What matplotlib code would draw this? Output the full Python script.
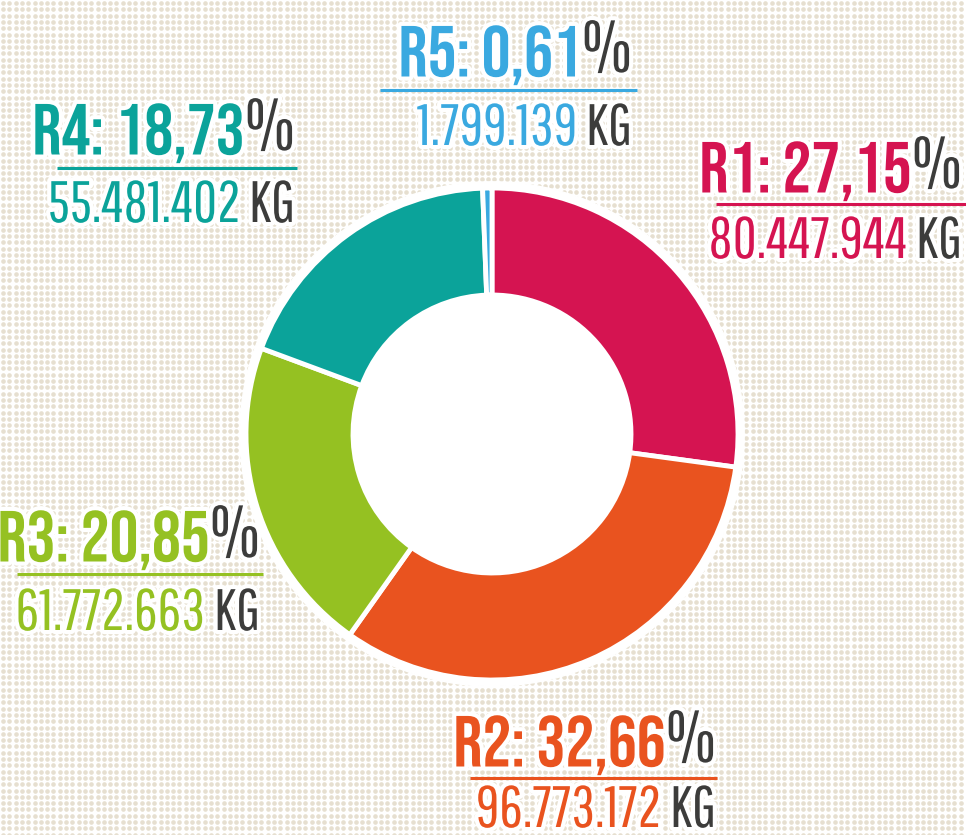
import numpy as np
import matplotlib
matplotlib.use("Agg")
import matplotlib.pyplot as plt
import matplotlib.patheffects as pe

# data
regions = ["R1", "R2", "R3", "R4", "R5"]
shares = [27.15, 32.66, 20.85, 18.73, 0.61]
share_labels = ["27,15", "32,66", "20,85", "18,73", "0,61"]
kg_labels = ["80.447.944", "96.773.172", "61.772.663", "55.481.402", "1.799.139"]
colors = ["#d51451", "#e9531f", "#95c122", "#0ba39a", "#3aa9e0"]
gray = "#3c3c3b"

# label layout in pixels: right edge, title baseline, rule y, rule x0, rule x1, kg baseline
label_pos = {
    "R1": (962, 188, 204, 716, 966, 258),
    "R2": (716, 762, 778, 470, 717, 827),
    "R3": (260, 557, 574, 17, 263, 630),
    "R4": (295, 150, 168, 57, 297, 222),
    "R5": (632, 72, 90, 380, 637, 145),
}

W, H = 966, 835
fig = plt.figure(figsize=(W / 100, H / 100), dpi=100)
bg = fig.add_axes([0, 0, 1, 1])
bg.set_xlim(0, W)
bg.set_ylim(H, 0)
bg.axis("off")

# dotted paper background
gx, gy = np.meshgrid(np.arange(3, W, 6.3), np.arange(3, H, 6.3))
bg.scatter(gx.ravel(), gy.ravel(), s=11, color="#e6dfd0", linewidths=0, zorder=0)

# donut
cx, cy, r = 492, 434, 246
ax = fig.add_axes([(cx - r - 8) / W, (H - cy - r - 8) / H, (2 * r + 16) / W, (2 * r + 16) / H])
ax.add_patch(plt.Circle((0, 0), 1.025, color="white", zorder=0))
ax.pie(shares, colors=colors, startangle=90, counterclock=False, radius=1,
       wedgeprops=dict(width=0.435, edgecolor="white", linewidth=3.5))
lim = 1 + 8 / r
ax.set_xlim(-lim, lim)
ax.set_ylim(-lim, lim)
ax.set_aspect("equal")
ax.axis("off")

halo = [pe.withStroke(linewidth=6, foreground="white")]
bold_font = ["Bebas Neue", "DejaVu Sans"]
light_font = ["Pathway Gothic One", "DejaVu Sans"]

for reg, lab, kg, col in zip(regions, share_labels, kg_labels, colors):
    xr, yt, yl, x0, x1, yk = label_pos[reg]
    bg.plot([x0, x1], [yl, yl], color=col, lw=2.2, zorder=5, solid_capstyle="butt")
    pct = bg.text(xr, yt, "%", color=gray, fontsize=52, family=light_font,
                  ha="right", va="baseline", zorder=4, path_effects=halo)
    bg.annotate(f"{reg}: {lab}", xy=(0, 0), xycoords=pct, color=col, fontsize=52,
                family=bold_font, ha="right", va="bottom",
                zorder=4, path_effects=halo)
    unit = bg.text(xr, yk, "KG", color=gray, fontsize=42, family=light_font,
                   ha="right", va="baseline", zorder=4, path_effects=halo)
    bg.annotate(kg + " ", xy=(0, 0), xycoords=unit, color=col, fontsize=42,
                family=light_font, ha="right", va="bottom", zorder=4, path_effects=halo)

fig.savefig("out.png", dpi=100)
